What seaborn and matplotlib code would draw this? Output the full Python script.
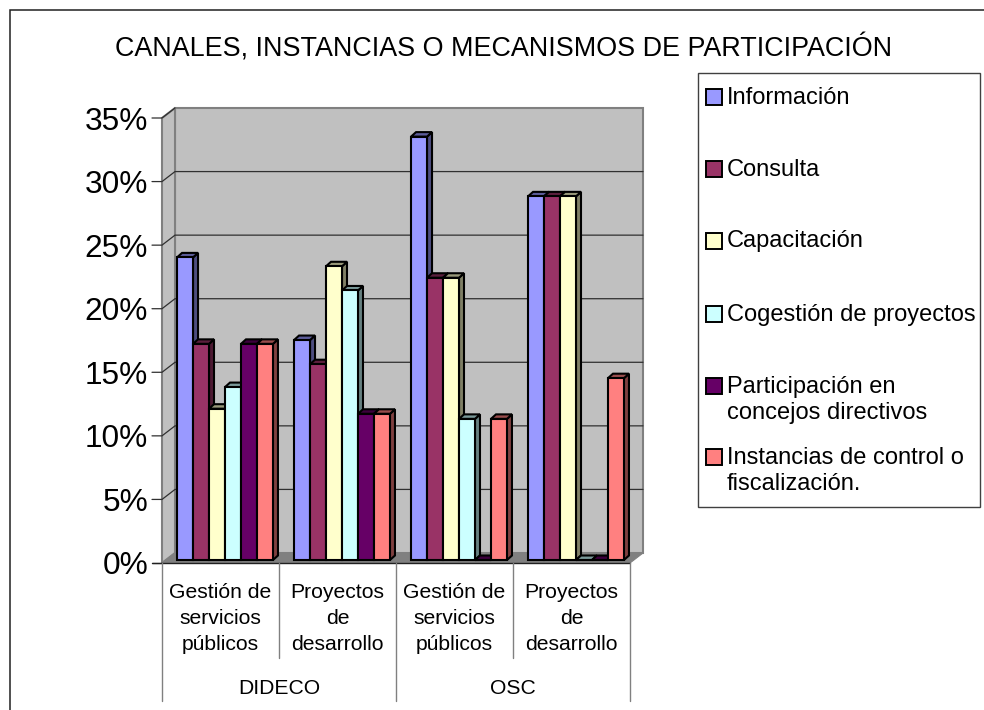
import matplotlib
matplotlib.use("Agg")
import matplotlib.pyplot as plt
import seaborn as sns
import pandas as pd
from matplotlib.patches import Polygon, Rectangle
from matplotlib.lines import Line2D
from matplotlib.transforms import Affine2D, IdentityTransform, blended_transform_factory

# ---- data ----
groups = ["DIDECO", "OSC"]
categories = ["Gestión de\nservicios\npúblicos", "Proyectos\nde\ndesarrollo"]
series = ["Información", "Consulta", "Capacitación", "Cogestión de proyectos",
          "Participación en\nconcejos directivos", "Instancias de control o\nfiscalización."]
dideco_gestion = [23.8, 17.0, 11.9, 13.6, 17.0, 17.0]
dideco_proyectos = [17.3, 15.4, 23.1, 21.2, 11.5, 11.5]
osc_gestion = [33.3, 22.2, 22.2, 11.1, 0.0, 11.1]
osc_proyectos = [28.6, 28.6, 28.6, 0.0, 0.0, 14.3]
colors = ["#9999FF", "#993366", "#FFFFCC", "#CCFFFF", "#660066", "#FF8080"]
title = "CANALES, INSTANCIAS O MECANISMOS DE PARTICIPACIÓN"
y_ticks = [0, 5, 10, 15, 20, 25, 30, 35]

rows = []
for key, vals in zip(range(4), [dideco_gestion, dideco_proyectos, osc_gestion, osc_proyectos]):
    for s, v in zip(series, vals):
        rows.append({"key": key, "serie": s, "valor": v})
df = pd.DataFrame(rows)

sns.set_theme(style="white")
plt.rcParams["font.family"] = ["Liberation Sans", "DejaVu Sans"]
W, H = 984, 710
fig = plt.figure(figsize=(W / 100, H / 100), dpi=100, facecolor="white")

# image-pixel helpers
pix = Affine2D().scale(1, -1).translate(0, H)
ax = fig.add_axes([162 / W, 1 - 563 / H, (630 - 162) / W, (563 - 118) / H])
ax.patch.set_visible(False)

sns.barplot(data=df, x="key", y="valor", hue="serie", hue_order=series, palette=colors,
            saturation=1, width=0.82, gap=0, dodge=True, legend=False, ax=ax)
ax.set_xlim(-0.5, 3.5)
ax.set_ylim(0, 35)
ax.set_xlabel("")
ax.set_ylabel("")
for s in ax.spines.values():
    s.set_visible(False)

ax.set_yticks(y_ticks, [f"{t}%" for t in y_ticks], fontsize=22.8, color="black")
ax.tick_params(axis="y", length=0, pad=10, left=False)
ax.set_xticks(range(4), categories * 2, fontsize=15.2, linespacing=1.47, color="black")
ax.tick_params(axis="x", length=0, pad=14.5)

fig.canvas.draw()
D = ax.transData
def pt(x, y, dx=0.0, dy=0.0):
    a, b = D.transform((x, y))
    return (a + dx, b + dy)

BACKX, BACKY = 13, 10
X0, X1 = -0.5, 3.5
idt = IdentityTransform()
grey = "#808080"
# walls and floor
ax.add_patch(Polygon([pt(X0, 0, BACKX, BACKY), pt(X1, 0, BACKX, BACKY), pt(X1, 35, BACKX, BACKY), pt(X0, 35, BACKX, BACKY)],
                     closed=True, fc="#C0C0C0", ec=grey, lw=1.5, transform=idt, clip_on=False, zorder=0.1))
ax.add_patch(Polygon([pt(X0, 0), pt(X0, 0, BACKX, BACKY), pt(X0, 35, BACKX, BACKY), pt(X0, 35)],
                     closed=True, fc="#C0C0C0", ec=grey, lw=1.5, transform=idt, clip_on=False, zorder=0.15))
ax.add_patch(Polygon([pt(X0, 0), pt(X1, 0), pt(X1, 0, BACKX, BACKY), pt(X0, 0, BACKX, BACKY)],
                     closed=True, fc=grey, ec=grey, lw=0.8, transform=idt, clip_on=False, zorder=0.2))
# gridlines and ticks
for t in y_ticks:
    pts = [pt(X0, t, -10, 0), pt(X0, t), pt(X0, t, BACKX, BACKY), pt(X1, t, BACKX, BACKY)]
    if t == 0:
        pts = pts[:2]
    if t == 35:
        pts = pts[:3]
    ax.add_line(Line2D([p[0] for p in pts], [p[1] for p in pts], color="#303030", lw=0.9,
                       transform=idt, clip_on=False, zorder=0.3))
ax.add_line(Line2D([pt(X0, 0, -10)[0], pt(X1, 0)[0]], [pt(X0, 0)[1]] * 2, color="#202020", lw=1.0,
                   transform=idt, clip_on=False, zorder=0.35))

# 3D bars
DX, DY = 4.5, 3.0       # bar plane offset from the front of the floor
SX, SY = 5.0, 4.5       # bar depth
def shade(c, f):
    r, g, b = matplotlib.colors.to_rgb(c)
    return (r * f, g * f, b * f)

bars = sorted([p for p in ax.patches if isinstance(p, Rectangle)], key=lambda p: p.get_x())
edge_lw = 1.5
for i, p in enumerate(bars):
    z = 3 + i * 0.01
    col = p.get_facecolor()
    x0, x1, h = p.get_x(), p.get_x() + p.get_width(), p.get_height()
    p.set_transform(D + Affine2D().translate(DX, DY))
    p.set_edgecolor("black")
    p.set_linewidth(edge_lw)
    p.set_clip_on(False)
    p.set_zorder(z + 0.002)
    a = pt(x1, 0, DX, DY); b = pt(x1, h, DX, DY); c = pt(x0, h, DX, DY)
    ax.add_patch(Polygon([a, (a[0] + SX, a[1] + SY), (b[0] + SX, b[1] + SY), b], closed=True,
                         fc=shade(col, 0.5), ec="black", lw=edge_lw, transform=idt, clip_on=False, zorder=z))
    ax.add_patch(Polygon([c, b, (b[0] + SX, b[1] + SY), (c[0] + SX, c[1] + SY)], closed=True,
                         fc=shade(col, 0.6), ec="black", lw=edge_lw, transform=idt, clip_on=False, zorder=z + 0.001))

# category tiers under the axis
tr = blended_transform_factory(D, pix)
for x, yend in zip([-0.5, 0.5, 1.5, 2.5, 3.5], [701, 658, 701, 658, 701]):
    ax.add_line(Line2D([x, x], [563, yend], color=grey, lw=1.0, transform=tr, clip_on=False))
for x, g in zip([0.5, 2.5], groups):
    ax.text(x, 688, g, transform=tr, ha="center", va="center", fontsize=15.2, color="black", clip_on=False)

# title
fig.text(504 / W, 1 - 48.5 / H, title, ha="center", va="center", fontsize=19.35, color="black")

# chart frame: top and left edges, the rest runs off the picture
fig.add_artist(Rectangle((10, -5), W + 20, H - 5, fill=False, ec="#202020", lw=1.1, transform=idt))

# legend box
fig.add_artist(Rectangle((698, H - 507), 282, 434.5, fc="white", ec="#404040", lw=1.0, transform=idt))
tops = [96, 168, 240, 313, 385, 456]
for c, s, ty in zip(colors, series, tops):
    fig.add_artist(Rectangle((705.5, H - ty - 8.5), 16, 16, fc=c, ec="black", lw=1.4, transform=idt))
    fig.text(727 / W, 1 - (ty - 9.5) / H, s, ha="left", va="top", fontsize=17.0, color="black", linespacing=1.28)

fig.savefig("out.png", dpi=100)
